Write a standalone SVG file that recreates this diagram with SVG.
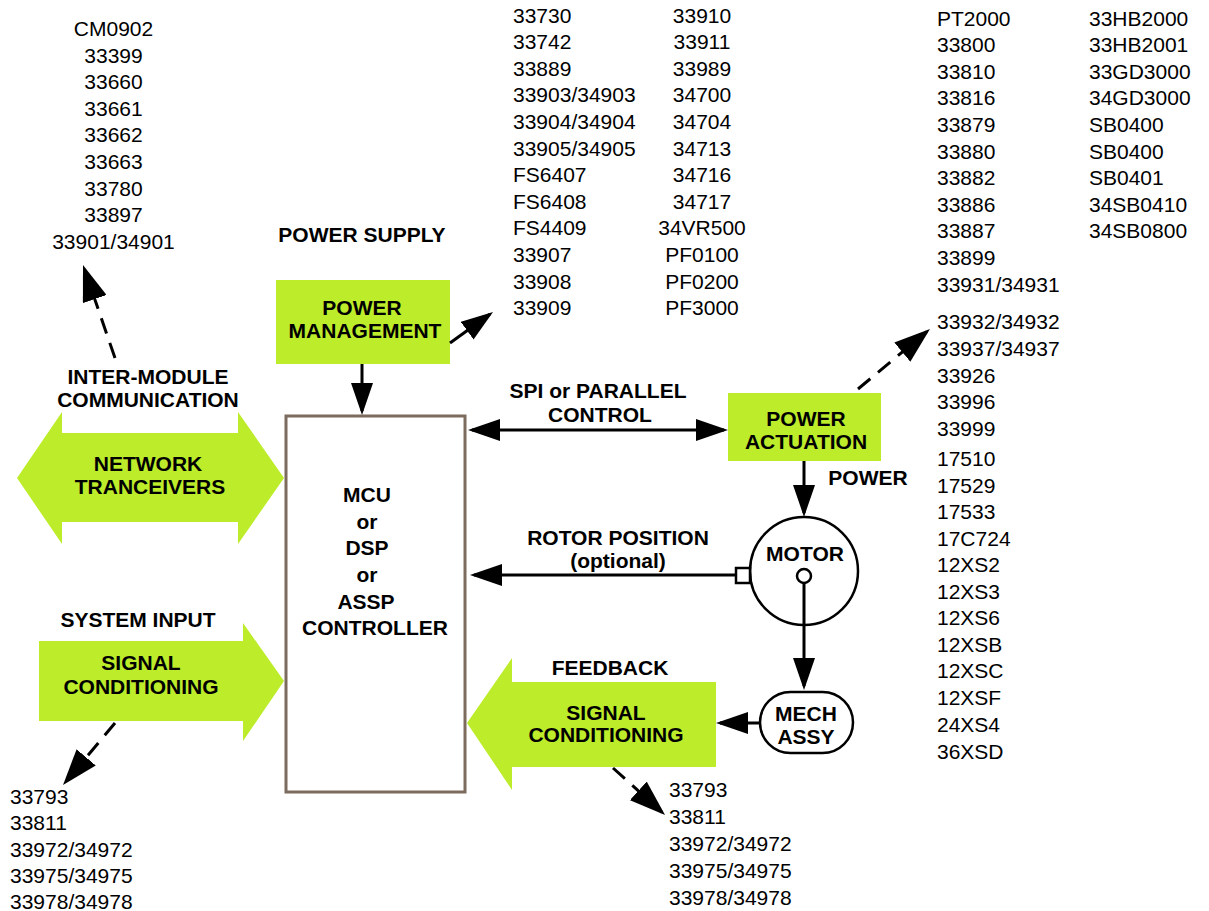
<svg xmlns="http://www.w3.org/2000/svg" width="1209" height="911" viewBox="0 0 1209 911">
<style>
.t{font-family:"Liberation Sans",Arial,sans-serif;font-size:21px;fill:#000}
.b{font-family:"Liberation Sans",Arial,sans-serif;font-size:21px;font-weight:bold;fill:#000;text-anchor:middle}
.m{text-anchor:middle}
.g{fill:#BCEC2A;stroke:none}
.ln{stroke:#000;stroke-width:3;fill:none}
.dl{stroke:#000;stroke-width:3;fill:none;stroke-dasharray:16 10}
.ol{stroke:#000;stroke-width:2.5;fill:#fff}
</style>
<defs>
<marker id="ah" viewBox="0 0 32 22" refX="28" refY="11" markerWidth="32" markerHeight="22" markerUnits="userSpaceOnUse" orient="auto-start-reverse">
<path d="M0,0 L32,11 L0,22 z" fill="#000"/>
</marker>
<marker id="ahd" viewBox="0 0 36 25" refX="32" refY="12.5" markerWidth="36" markerHeight="25" markerUnits="userSpaceOnUse" orient="auto">
<path d="M0,0 L36,12.5 L0,25 z" fill="#000"/>
</marker>
</defs>
<rect width="1209" height="911" fill="#fff"/>

<g id="list-intermodule" class="t m">
<text x="113.5" y="36">CM0902</text>
<text x="113.5" y="62.6">33399</text>
<text x="113.5" y="89.2">33660</text>
<text x="113.5" y="115.8">33661</text>
<text x="113.5" y="142.4">33662</text>
<text x="113.5" y="169">33663</text>
<text x="113.5" y="195.6">33780</text>
<text x="113.5" y="222.2">33897</text>
<text x="113.5" y="248.8">33901/34901</text>
</g>

<g id="list-power1" class="t">
<text x="513" y="22.5">33730</text>
<text x="513" y="49.1">33742</text>
<text x="513" y="75.7">33889</text>
<text x="513" y="102.3">33903/34903</text>
<text x="513" y="128.9">33904/34904</text>
<text x="513" y="155.5">33905/34905</text>
<text x="513" y="182.1">FS6407</text>
<text x="513" y="208.7">FS6408</text>
<text x="513" y="235.3">FS4409</text>
<text x="513" y="261.9">33907</text>
<text x="513" y="288.5">33908</text>
<text x="513" y="315.1">33909</text>
</g>

<g id="list-power2" class="t m">
<text x="702" y="22.5">33910</text>
<text x="702" y="49.1">33911</text>
<text x="702" y="75.7">33989</text>
<text x="702" y="102.3">34700</text>
<text x="702" y="128.9">34704</text>
<text x="702" y="155.5">34713</text>
<text x="702" y="182.1">34716</text>
<text x="702" y="208.7">34717</text>
<text x="702" y="235.3">34VR500</text>
<text x="702" y="261.9">PF0100</text>
<text x="702" y="288.5">PF0200</text>
<text x="702" y="315.1">PF3000</text>
</g>

<g id="list-actuation1" class="t">
<text x="937" y="25.5">PT2000</text>
<text x="937" y="52.1">33800</text>
<text x="937" y="78.7">33810</text>
<text x="937" y="105.3">33816</text>
<text x="937" y="131.9">33879</text>
<text x="937" y="158.5">33880</text>
<text x="937" y="185.1">33882</text>
<text x="937" y="211.7">33886</text>
<text x="937" y="238.3">33887</text>
<text x="937" y="264.9">33899</text>
<text x="937" y="291.5">33931/34931</text>
<text x="937" y="328.5">33932/34932</text>
<text x="937" y="355.5">33937/34937</text>
<text x="937" y="382.5">33926</text>
<text x="937" y="408.5">33996</text>
<text x="937" y="435.5">33999</text>
<text x="937" y="465.5">17510</text>
<text x="937" y="492.5">17529</text>
<text x="937" y="518.5">17533</text>
<text x="937" y="545.5">17C724</text>
<text x="937" y="571.5">12XS2</text>
<text x="937" y="598.5">12XS3</text>
<text x="937" y="624.5">12XS6</text>
<text x="937" y="651.5">12XSB</text>
<text x="937" y="677.5">12XSC</text>
<text x="937" y="704.5">12XSF</text>
<text x="937" y="731.5">24XS4</text>
<text x="937" y="758.5">36XSD</text>
</g>

<g id="list-actuation2" class="t">
<text x="1089" y="25.5">33HB2000</text>
<text x="1089" y="52.1">33HB2001</text>
<text x="1089" y="78.7">33GD3000</text>
<text x="1089" y="105.3">34GD3000</text>
<text x="1089" y="131.9">SB0400</text>
<text x="1089" y="158.5">SB0400</text>
<text x="1089" y="185.1">SB0401</text>
<text x="1089" y="211.7">34SB0410</text>
<text x="1089" y="238.3">34SB0800</text>
</g>

<g id="list-feedback" class="t">
<text x="669" y="796.5">33793</text>
<text x="669" y="823.5">33811</text>
<text x="669" y="850.5">33972/34972</text>
<text x="669" y="877.5">33975/34975</text>
<text x="669" y="904.5">33978/34978</text>
</g>

<g id="list-sysinput" class="t">
<text x="10" y="803.5">33793</text>
<text x="10" y="830">33811</text>
<text x="10" y="856.5">33972/34972</text>
<text x="10" y="883">33975/34975</text>
<text x="10" y="909">33978/34978</text>
</g>

<g id="labels" class="b">
<text x="362" y="241.5">POWER SUPPLY</text>
<text x="598" y="397.5">SPI or PARALLEL</text>
<text x="600" y="421.5">CONTROL</text>
<text x="868" y="484.5">POWER</text>
<text x="148" y="383.5">INTER-MODULE</text>
<text x="148" y="406.5">COMMUNICATION</text>
<text x="618" y="544.5">ROTOR POSITION</text>
<text x="618" y="567.5">(optional)</text>
<text x="138" y="626.5">SYSTEM INPUT</text>
<text x="610" y="674.5">FEEDBACK</text>
</g>

<g id="network-tranceivers">
<polygon class="g" points="17,478 62,412 62,433 238,433 238,412 284,478 238,544 238,522 62,522 62,544"/>
<text class="b" x="148" y="470.5">NETWORK</text>
<text class="b" x="150" y="493.5">TRANCEIVERS</text>
</g>

<g id="signal-conditioning-input">
<polygon class="g" points="39,641 243,641 243,623 284,681 243,741 243,721 39,721"/>
<text class="b" x="141" y="669.5">SIGNAL</text>
<text class="b" x="141" y="693.5">CONDITIONING</text>
</g>

<g id="signal-conditioning-feedback">
<polygon class="g" points="716,682 512,682 512,658 467,723 512,790 512,767 716,767"/>
<text class="b" x="606" y="719.5">SIGNAL</text>
<text class="b" x="606" y="741.5">CONDITIONING</text>
</g>

<g id="power-management">
<rect class="g" x="276" y="280" width="174" height="84"/>
<text class="b" x="362" y="314.5">POWER</text>
<text class="b" x="365" y="337.5">MANAGEMENT</text>
</g>

<g id="power-actuation">
<rect class="g" x="728" y="393" width="153" height="68"/>
<text class="b" x="806" y="425.5">POWER</text>
<text class="b" x="806" y="448.5">ACTUATION</text>
</g>

<g id="controller">
<rect x="286" y="416" width="179" height="376" fill="#fff" stroke="#7D6B5D" stroke-width="3"/>
<text class="b" x="367" y="501.5">MCU</text>
<text class="b" x="367" y="528.5">or</text>
<text class="b" x="367" y="554.5">DSP</text>
<text class="b" x="367" y="581.5">or</text>
<text class="b" x="366" y="608.5">ASSP</text>
<text class="b" x="375" y="634.5">CONTROLLER</text>
</g>

<g id="motor">
<circle class="ol" cx="804" cy="571" r="54"/>
<rect class="ol" x="736" y="568" width="14" height="15"/>
<circle class="ol" cx="804" cy="576" r="7"/>
<text class="b" x="805" y="560.5">MOTOR</text>
</g>

<g id="mech-assy">
<rect class="ol" x="760" y="692" width="93" height="61" rx="30.5" ry="30.5"/>
<text class="b" x="806" y="720.5">MECH</text>
<text class="b" x="806" y="743.5">ASSY</text>
</g>

<g id="connectors">
<line class="ln" x1="362" y1="364" x2="362" y2="411" marker-end="url(#ah)"/>
<line class="ln" x1="450" y1="343" x2="489.8" y2="314.3" marker-end="url(#ah)"/>
<line class="ln" x1="472" y1="430" x2="724" y2="430" marker-start="url(#ah)" marker-end="url(#ah)"/>
<line class="ln" x1="804" y1="461" x2="804" y2="513" marker-end="url(#ah)"/>
<line class="ln" x1="736" y1="575" x2="474" y2="575" marker-end="url(#ah)"/>
<line class="ln" x1="804" y1="583" x2="804" y2="686" marker-end="url(#ah)"/>
<line class="ln" x1="760" y1="723" x2="720" y2="723" marker-end="url(#ah)"/>
<line class="dl" x1="115" y1="358" x2="84.3" y2="268.8" marker-end="url(#ahd)"/>
<line class="dl" x1="115" y1="723" x2="65.6" y2="781.9" marker-end="url(#ahd)"/>
<line class="dl" x1="613" y1="768" x2="662.1" y2="812.3" marker-end="url(#ahd)"/>
<line class="dl" x1="858" y1="389" x2="926.9" y2="331.6" marker-end="url(#ahd)"/>
</g>
</svg>
